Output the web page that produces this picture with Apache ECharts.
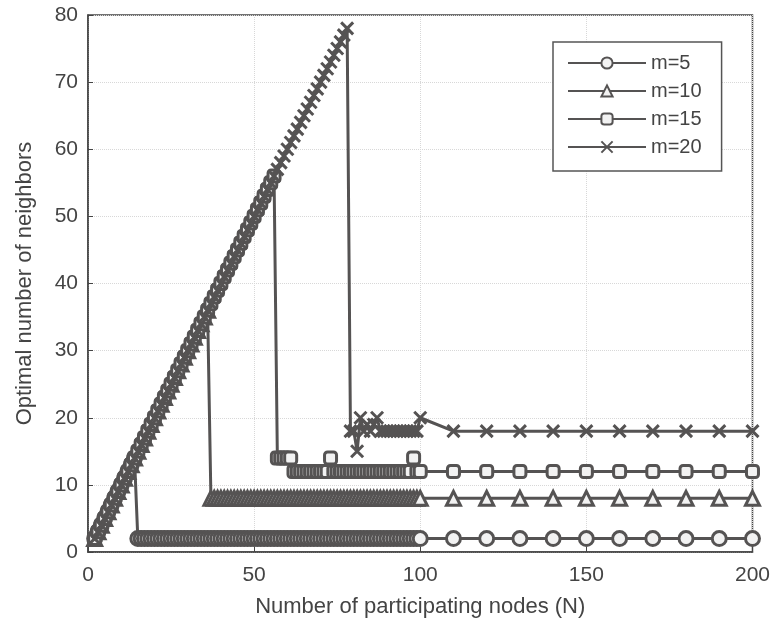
<!DOCTYPE html>
<html>
<head>
<meta charset="utf-8">
<script src="https://cdn.jsdelivr.net/npm/echarts@6/dist/echarts.min.js"></script>
<style>
html,body{margin:0;padding:0;background:#fff;}
#chart{width:773px;height:632px;}
</style>
</head>
<body>
<div id="chart"></div>
<script>
// Number of participating nodes (N)
const nodes = [
  2,3,4,5,6,7,8,9,10,11,12,13,14,15,16,17,18,19,20,21,
  22,23,24,25,26,27,28,29,30,31,32,33,34,35,36,37,38,39,40,41,
  42,43,44,45,46,47,48,49,50,51,52,53,54,55,56,57,58,59,60,61,
  62,63,64,65,66,67,68,69,70,71,72,73,74,75,76,77,78,79,80,81,
  82,83,84,85,86,87,88,89,90,91,92,93,94,95,96,97,98,99,100,
  110,120,130,140,150,160,170,180,190,200
];

// m=5
const m5 = [
  2,3,4,5,6,7,8,9,10,11,12,13,14,
  2,2,2,2,2,2,2,2,2,2,
  2,2,2,2,2,2,2,2,2,2,
  2,2,2,2,2,2,2,2,2,2,
  2,2,2,2,2,2,2,2,2,2,
  2,2,2,2,2,2,2,2,2,2,
  2,2,2,2,2,2,2,2,2,2,
  2,2,2,2,2,2,2,2,2,2,
  2,2,2,2,2,2,2,2,2,2,
  2,2,2,2,2,2,
  2,2,2,2,2,2,2,2,2,2
];

// m=10
const m10 = [
  2,3,4,5,6,7,8,9,10,11,12,13,14,15,16,17,18,19,20,21,
  22,23,24,25,26,27,28,29,30,31,32,33,34,35,36,
  8,8,8,8,8,8,8,8,8,8,
  8,8,8,8,8,8,8,8,8,8,
  8,8,8,8,8,8,8,8,8,8,
  8,8,8,8,8,8,8,8,8,8,
  8,8,8,8,8,8,8,8,8,8,
  8,8,8,8,8,8,8,8,8,8,
  8,8,8,8,
  8,8,8,8,8,8,8,8,8,8
];

// m=15
const m15 = [
  2,3,4,5,6,7,8,9,10,11,12,13,14,15,16,17,18,19,20,21,
  22,23,24,25,26,27,28,29,30,31,32,33,34,35,36,37,38,39,40,41,
  42,43,44,45,46,47,48,49,50,51,52,53,54,55,56,
  14,14,14,14,14,
  12,12,12,12,12,12,12,12,12,12,12,
  14,
  12,12,12,12,12,12,12,12,12,12,12,12,
  12,12,12,12,12,12,12,12,12,12,12,12,
  14,
  12,12,
  12,12,12,12,12,12,12,12,12,12
];

// m=20
const m20 = [
  2,3,4,5,6,7,8,9,10,11,12,13,14,15,16,17,18,19,20,21,
  22,23,24,25,26,27,28,29,30,31,32,33,34,35,36,37,38,39,40,41,
  42,43,44,45,46,47,48,49,50,51,52,53,54,55,56,57,58,59,60,61,
  62,63,64,65,66,67,68,69,70,71,72,73,74,75,76,77,78,
  18,18,15,20,18,19,18,19,20,18,
  18,18,18,18,18,18,18,18,18,18,18,
  20,
  18,18,18,18,18,18,18,18,18,18
];

const seriesNames = ['m=5', 'm=10', 'm=15', 'm=20'];
const xTicks = [0, 50, 100, 150, 200];
const yTicks = [0, 10, 20, 30, 40, 50, 60, 70, 80];

const INK = '#555353';
const FONT = 'Liberation Sans';
const crossPath = 'path://M0,0L10,10M0,10L10,0';

function pairs(vals) { return nodes.map((n, i) => [n, vals[i]]); }

function mk(name, vals, symbol, size) {
  return {
    name: name,
    type: 'line',
    data: pairs(vals),
    symbol: symbol,
    symbolSize: size,
    showSymbol: true,
    showAllSymbol: true,
    animation: false,
    lineStyle: { color: INK, width: 3 },
    itemStyle: { color: symbol === crossPath ? INK : '#f2f2f2', borderColor: INK, borderWidth: 3 },
    emphasis: { disabled: true }
  };
}

const chart = echarts.init(document.getElementById('chart'), null, { renderer: 'canvas' });
chart.setOption({
  backgroundColor: '#ffffff',
  animation: false,
  textStyle: { fontFamily: FONT },
  grid: {
    left: 88, right: 18, top: 15, bottom: 80,
    show: true, borderColor: '#444', borderWidth: 1.5, backgroundColor: 'transparent'
  },
  legend: {
    orient: 'vertical',
    left: 553, top: 42,
    padding: [11, 20, 14, 14],
    backgroundColor: '#fff',
    borderColor: '#555',
    borderWidth: 1.5,
    itemWidth: 78,
    itemHeight: 14,
    itemGap: 8,
    textStyle: { fontFamily: FONT, fontSize: 20, color: '#444' },
    data: seriesNames
  },
  xAxis: {
    type: 'value',
    min: xTicks[0], max: xTicks[xTicks.length - 1], interval: 50,
    name: 'Number of participating nodes (N)',
    nameLocation: 'middle', nameGap: 44,
    nameTextStyle: { fontFamily: FONT, fontSize: 22, color: '#444' },
    axisLine: { show: true, lineStyle: { color: '#444', width: 1.5 } },
    axisTick: { show: true, inside: true, length: 5, lineStyle: { color: '#444' } },
    axisLabel: { fontFamily: FONT, fontSize: 21, color: '#444', margin: 13 },
    splitLine: { show: true, lineStyle: { color: '#d8d8d8', type: 'dotted', width: 1 } }
  },
  yAxis: {
    type: 'value',
    min: yTicks[0], max: yTicks[yTicks.length - 1], interval: 10,
    name: 'Optimal number of neighbors',
    nameLocation: 'middle', nameGap: 52,
    nameTextStyle: { fontFamily: FONT, fontSize: 22, color: '#444' },
    axisLine: { show: true, lineStyle: { color: '#444', width: 1.5 } },
    axisTick: { show: true, inside: true, length: 5, lineStyle: { color: '#444' } },
    axisLabel: { fontFamily: FONT, fontSize: 21, color: '#444', margin: 10 },
    splitLine: { show: true, lineStyle: { color: '#d8d8d8', type: 'dotted', width: 1 } }
  },
  series: [
    mk(seriesNames[0], m5, 'circle', 14),
    mk(seriesNames[1], m10, 'triangle', 14),
    mk(seriesNames[2], m15, 'roundRect', 12),
    mk(seriesNames[3], m20, crossPath, 12)
  ]
});
</script>
</body>
</html>
